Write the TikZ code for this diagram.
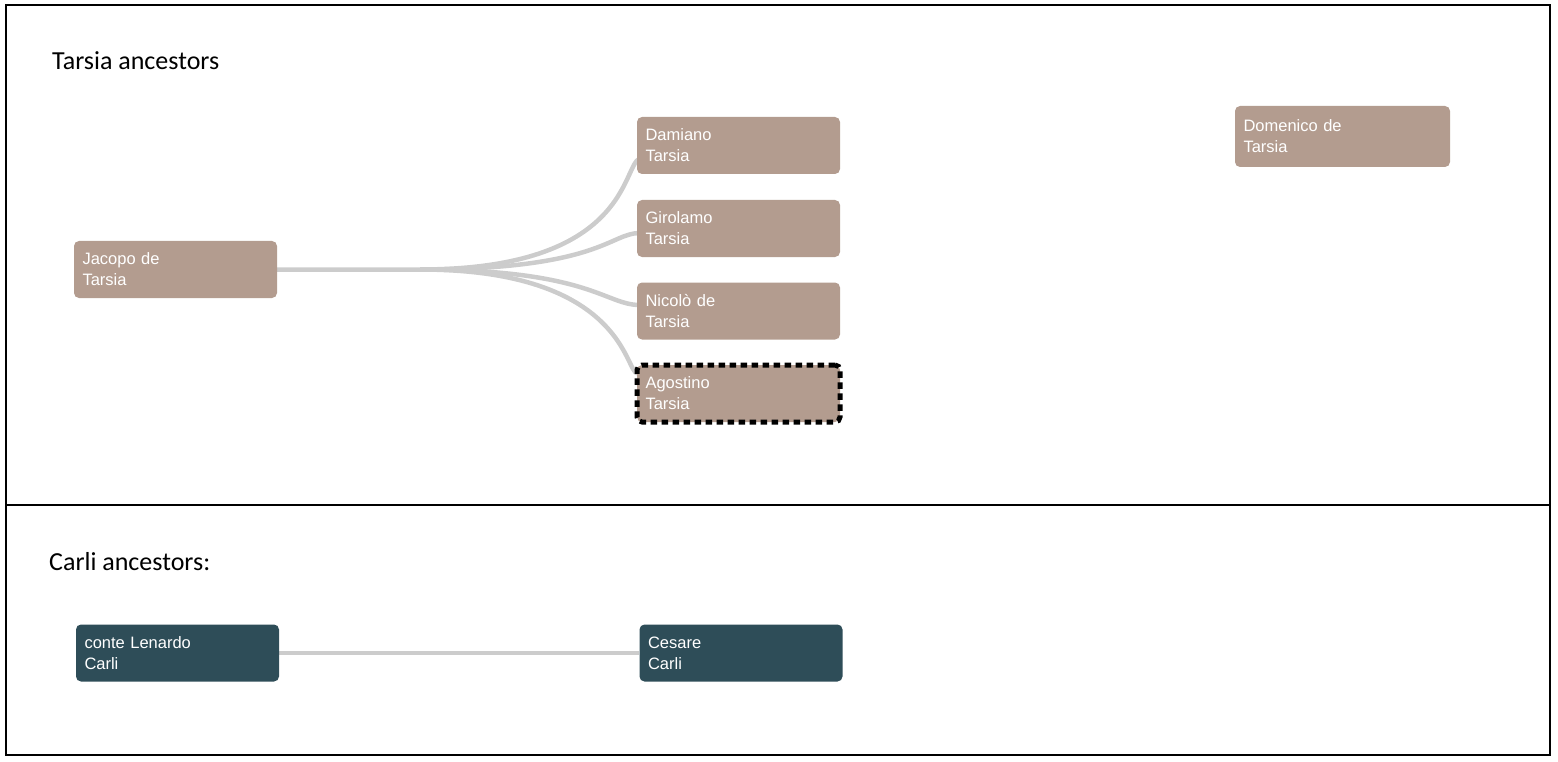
\documentclass[tikz,border=0pt]{standalone}
\usepackage{fontspec}
\setmainfont{Liberation Sans}
\newfontfamily\titlefont{Carlito}
\usetikzlibrary{backgrounds}
\definecolor{tarsiabox}{HTML}{B39C8F}
\definecolor{carlibox}{HTML}{2E4D58}
\definecolor{linkgray}{HTML}{CCCCCC}

\begin{document}
\begin{tikzpicture}[x=1pt, y=-1pt,
        every node/.style={rounded corners=5pt, align=left, inner sep=0pt},
        person/.style={minimum width=203pt, minimum height=57pt, text width=186pt, text=white, font=\fontsize{16.5}{21}\selectfont},
        tarsia/.style={person, fill=tarsiabox},
        carli/.style={person, fill=carlibox},
        chosen/.style={draw=black, line width=5pt, dash pattern=on 6.5pt off 4.5pt},
        title/.style={anchor=base west, font=\titlefont\fontsize{26}{31}\selectfont},
        link/.style={draw=linkgray, line width=4.5pt},
        panel/.style={draw=black, line width=1.5pt}
    ]
    \useasboundingbox (0,0) rectangle (1558,762);
    \draw[panel] (6,5) rectangle (1550,505);
    \draw[panel] (6,505) rectangle (1550,755);

    % Tarsia tree
    \node[title] (tarsiaTitle) at (52,69.5) {Tarsia ancestors};
    \node[tarsia] (jacopo) at (175.5,269.5) {Jacopo de\\Tarsia};
    \node[tarsia] (damiano) at (738.5,145.5) {Damiano\\Tarsia};
    \node[tarsia] (girolamo) at (738.5,228.5) {Girolamo\\Tarsia};
    \node[tarsia] (nicolo) at (738.5,311) {Nicolò de\\Tarsia};
    \node[tarsia, chosen] (agostino) at (738.5,393.5) {Agostino\\Tarsia};
    \node[tarsia, minimum width=215pt, minimum height=61pt, text width=198pt] (domenico) at (1342.5,136.5) {Domenico de\\Tarsia};

    % Carli tree
    \node[title] (carliTitle) at (49,570) {Carli ancestors:};
    \node[carli] (lenardo) at (177.5,653) {conte Lenardo\\Carli};
    \node[carli] (cesare) at (741,653) {Cesare\\Carli};

    \coordinate (fork) at (420,269.5);
    \begin{scope}[on background layer]
    \draw[link] (jacopo.east) -- (fork) .. controls (630,269.5) and (622,165) .. ([xshift=3pt,yshift=-13pt]damiano.west);
    \draw[link] (fork) .. controls (600,269.5) and (610,233) .. ([xshift=3pt,yshift=-4.5pt]girolamo.west);
    \draw[link] (fork) .. controls (590,269.5) and (605,305) .. ([xshift=3pt,yshift=6pt]nicolo.west);
    \draw[link] (fork) .. controls (625,269.5) and (625,373) .. ([xshift=3pt,yshift=20pt]agostino.west);
    \draw[link] (lenardo) -- (cesare);
    \end{scope}
\end{tikzpicture}
\end{document}
